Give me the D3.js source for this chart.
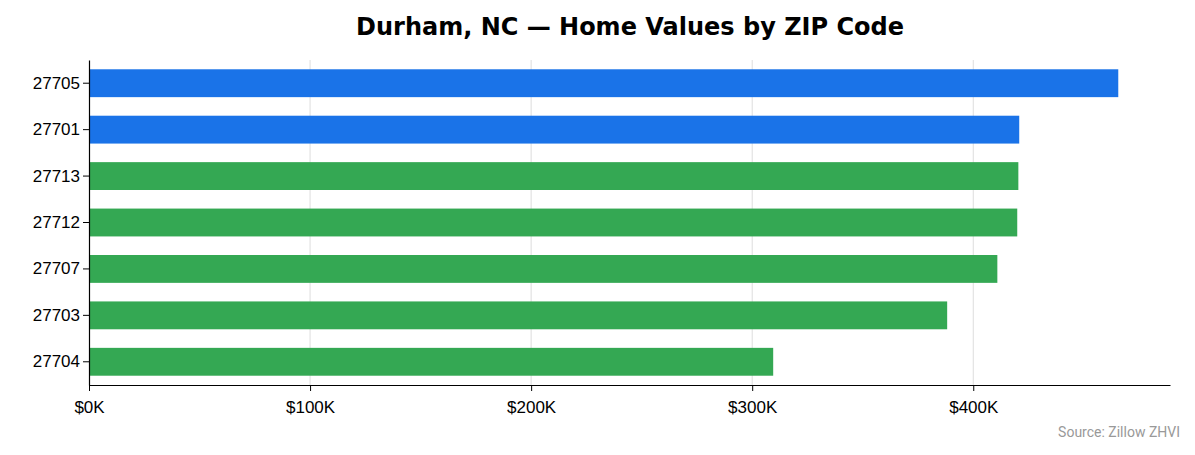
<!DOCTYPE html>
<html>
<head>
<meta charset="utf-8">
<script src="https://cdn.jsdelivr.net/npm/d3@7"></script>
<style>
  body { margin: 0; background: #fff; font-family: "DejaVu Sans", sans-serif; }
</style>
</head>
<body>
<div id="chart"></div>
<script>
// Data
const zips = ["27705", "27701", "27713", "27712", "27707", "27703", "27704"];
const values = [465600, 420800, 420400, 419900, 410900, 388200, 309500];
const colors = ["#1a73e8", "#1a73e8", "#34a853", "#34a853", "#34a853", "#34a853", "#34a853"];
const tickValues = [0, 100000, 200000, 300000, 400000];

const W = 1195, H = 455;
const margin = {top: 60, right: 25, bottom: 70, left: 89};
const width = W - margin.left - margin.right,
    height = H - margin.top - margin.bottom;

const svgRoot = d3.select("#chart").append("svg")
    .attr("width", W).attr("height", H);

svgRoot.append("text")
    .attr("x", 630).attr("y", 35)
    .attr("text-anchor", "middle")
    .style("font-size", "24px").style("font-weight", "bold")
    .text("Durham, NC \u2014 Home Values by ZIP Code");

svgRoot.append("text")
    .attr("x", 1180).attr("y", 437)
    .attr("text-anchor", "end")
    .style("font-size", "14px").style("fill", "#999")
    .style("font-family", "Roboto, sans-serif")
    .text("Source: Zillow ZHVI");

const svg = svgRoot.append("g")
    .attr("transform", `translate(${margin.left},${margin.top})`);

const x = d3.scaleLinear().domain([0, 489000]).range([0, width]);
const y = d3.scaleBand().domain(zips).range([0, height]).padding(0.4).paddingOuter(0.2);

// Grid
svg.selectAll(".grid").data(tickValues.slice(1)).join("line")
    .attr("x1", d => x(d)).attr("x2", d => x(d))
    .attr("y1", 0).attr("y2", height)
    .attr("stroke", "#ddd").attr("stroke-width", 1);

// Bars
svg.selectAll(".bar").data(values).join("rect")
    .attr("x", 0)
    .attr("y", (d, i) => y(zips[i]))
    .attr("width", d => x(d))
    .attr("height", y.bandwidth())
    .attr("fill", (d, i) => colors[i]);

// Axes
const xAxis = svg.append("g")
    .attr("transform", `translate(0,${height})`)
    .call(d3.axisBottom(x).tickValues(tickValues).tickFormat(d => "$" + d / 1000 + "K").tickSize(6).tickSizeOuter(0));
const yAxis = svg.append("g")
    .call(d3.axisLeft(y).tickSize(6).tickSizeOuter(0));
[xAxis, yAxis].forEach(a => {
  a.selectAll("text").style("font-size", "17px").style("fill", "#000");
  a.select(".domain").attr("stroke", "#000").attr("stroke-width", 1.2);
});
xAxis.selectAll("text").attr("dy", "1.1em");
</script>
</body>
</html>
